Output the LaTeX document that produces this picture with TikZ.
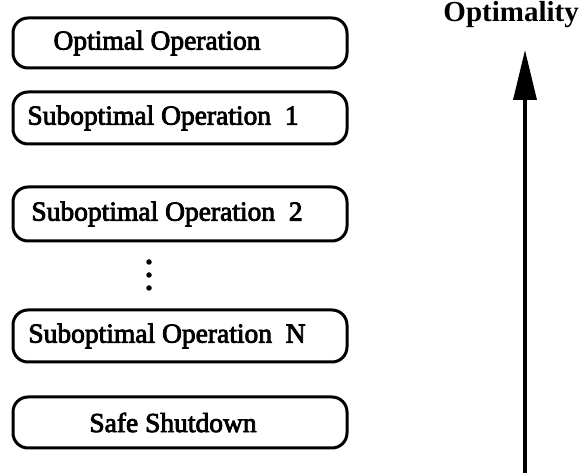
\documentclass[tikz,border=0pt]{standalone}
\usepackage{fontspec}
\setmainfont{Liberation Serif}
\newfontfamily\labelfont[FakeBold=3]{Liberation Serif}
\usetikzlibrary{arrows.meta}
\tikzset{
  statebox/.style={draw=black, line width=3pt, rounded corners=15pt,
    minimum width=334pt, minimum height=50pt, inner sep=0pt},
  statetext/.style={font=\labelfont\fontsize{27.5}{32}\selectfont, inner sep=0pt, anchor=center},
  dotmark/.style={circle, fill=black, inner sep=0pt, minimum size=5.5pt},
  optarrow/.style={line width=3.5pt, -{Triangle[length=50pt,width=23pt]}},
}
\begin{document}
\begin{tikzpicture}[x=1pt,y=-1pt]
\useasboundingbox (0,0) rectangle (582,473);
% boxes
\node[statebox, minimum height=50pt] (b1) at (180,43) {};
\node[statebox, minimum height=52pt] (b2) at (180,118) {};
\node[statebox, minimum height=54pt] (b3) at (180,214) {};
\node[statebox, minimum height=52pt] (bn) at (180,336) {};
\node[statebox, minimum height=51pt] (bs) at (180,422.5) {};
% texts
\node[statetext] (t1) at (157,43) {Optimal Operation};
\node[statetext] (t2) at (163,118) {Suboptimal Operation\ \ 1};
\node[statetext] (t3) at (167,214) {Suboptimal Operation\ \ 2};
\node[statetext] (tn) at (167,336) {Suboptimal Operation\ \ N};
\node[statetext] (ts) at (173,422.5) {Safe Shutdown};
% dots
\node[dotmark] (d1) at (149,262) {};
\node[dotmark] (d2) at (149,275) {};
\node[dotmark] (d3) at (149,288) {};
% arrow
\coordinate (abot) at (525,473);
\coordinate (atop) at (525,50);
\draw[optarrow] (abot) -- (atop);
\node[font=\bfseries\fontsize{29}{34}\selectfont, inner sep=0pt, anchor=east] (opt) at (579,15) {Optimality};
\end{tikzpicture}
\end{document}
